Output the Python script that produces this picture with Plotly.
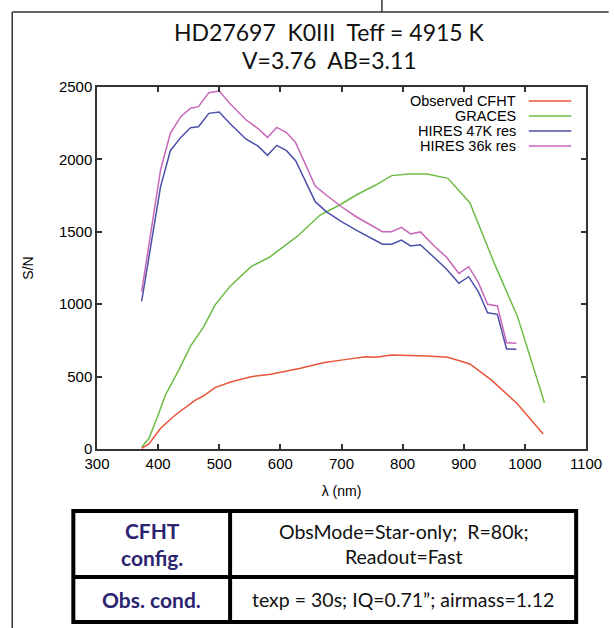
import plotly.graph_objects as go

# wavelength (nm) / S/N
cfht_wl = [373, 385, 404, 428, 461, 474, 493, 520, 552, 584, 633, 670, 708, 724, 740, 756, 782, 840, 874, 910, 945, 988, 1030]
cfht_sn = [5, 35, 143, 235, 338, 366, 424, 465, 499, 516, 557, 596, 619, 626, 637, 633, 649, 642, 633, 587, 477, 311, 104]

graces_wl = [373, 385, 399, 412, 434, 453, 474, 493, 517, 552, 582, 627, 665, 697, 724, 756, 782, 810, 840, 874, 910, 950, 988, 1032]
graces_sn = [12, 74, 223, 373, 546, 711, 840, 994, 1121, 1259, 1324, 1466, 1616, 1685, 1754, 1823, 1888, 1899, 1899, 1869, 1701, 1282, 914, 320]

hires_wl = [373, 404, 420, 437, 453, 466, 483, 500, 517, 544, 563, 579, 594, 610, 625, 657, 675, 700, 724, 746, 767, 782, 798, 813,
            829, 853, 872, 892, 908, 924, 939, 955, 970, 986]
hires47_sn = [1020, 1812, 2060, 2152, 2219, 2226, 2318, 2327, 2249, 2139, 2093, 2028, 2097, 2060, 1991, 1708, 1639, 1570, 1512,
              1462, 1414, 1414, 1443, 1402, 1411, 1317, 1241, 1144, 1190, 1086, 941, 930, 691, 689]
hires36_sn = [1086, 1927, 2180, 2295, 2353, 2364, 2461, 2472, 2387, 2272, 2215, 2152, 2221, 2185, 2116, 1816, 1754, 1673, 1604,
              1554, 1501, 1501, 1531, 1485, 1499, 1397, 1324, 1213, 1259, 1149, 999, 988, 734, 730]

series_names = ["Observed CFHT", "GRACES", "HIRES 47K res", "HIRES 36k res"]
series_colors = ["#e9553a", "#6cbd45", "#4b4fa8", "#c766b8"]

title_lines = ["HD27697  K0III  Teff = 4915 K", "V=3.76  AB=3.11"]
table_left = ["<b>CFHT</b><br><b>config.</b>", "<b>Obs. cond.</b>"]
table_right = ["ObsMode=Star-only;  R=80k;<br>Readout=Fast", "texp = 30s; IQ=0.71”; airmass=1.12"]

W, H = 614, 628
L, R, T, B = 97, 593, 87, 449  # plot area in pixels


def px(x):
    return (x - L) / (R - L)


def py(y):
    return (B - y) / (B - T)


fig = go.Figure()
data = [
    (cfht_wl, cfht_sn),
    (graces_wl, graces_sn),
    (hires_wl, hires47_sn),
    (hires_wl, hires36_sn),
]
for (x, y), name, color in zip(data, series_names, series_colors):
    fig.add_trace(go.Scatter(x=x, y=y, mode="lines", name=name, line=dict(color=color, width=1.5)))

fig.update_layout(
    width=W,
    height=H,
    margin=dict(l=L, r=W - R, t=T, b=H - B),
    plot_bgcolor="white",
    paper_bgcolor="white",
    showlegend=False,
    font=dict(family="Liberation Sans, Arial", size=15, color="black"),
)

axis_style = dict(
    showline=True,
    linecolor="#333333",
    linewidth=1.5,
    mirror="allticks",
    ticks="inside",
    ticklen=5,
    tickwidth=1.5,
    tickcolor="#333333",
    showgrid=False,
    zeroline=False,
)
fig.update_xaxes(axis_style, range=[300, 1100], dtick=100, tick0=300,
                 title=dict(text="λ (nm)", standoff=15, font=dict(size=14)))
fig.update_yaxes(axis_style, range=[0, 2500], dtick=500,
                 title=dict(text="S/N", standoff=22, font=dict(size=14)))

# legend, gnuplot style (text left of sample)
for i, (name, color) in enumerate(zip(series_names, series_colors)):
    yy = 101 + 15 * i
    fig.add_annotation(text=name, xref="paper", yref="paper", x=px(524), y=py(yy),
                       xanchor="right", yanchor="middle", showarrow=False, font=dict(size=14.5))
    fig.add_shape(type="line", xref="paper", yref="paper", x0=px(535), x1=px(578), y0=py(yy), y1=py(yy),
                  line=dict(color=color, width=1.5))

# title
for i, line in enumerate(title_lines):
    fig.add_annotation(text=line, xref="paper", yref="paper", x=px(333), y=py(32 + 28 * i),
                       xanchor="center", yanchor="middle", showarrow=False,
                       font=dict(family="Lato", size=23, color="#111111"))

# outer frame
frame = dict(color="#333333", width=1.5)
fig.add_shape(type="line", xref="paper", yref="paper", x0=px(11), x1=px(616), y0=py(12), y1=py(12), line=frame)
fig.add_shape(type="line", xref="paper", yref="paper", x0=px(11), x1=px(11), y0=py(12), y1=py(630), line=frame)
fig.add_shape(type="line", xref="paper", yref="paper", x0=px(386), x1=px(386), y0=py(-2), y1=py(12), line=frame)

# table
tx0, tx1, tx2 = 73, 232, 583
ty0, ty1, ty2 = 511, 577, 622
tline = dict(color="black", width=4)
fig.add_shape(type="rect", xref="paper", yref="paper", x0=px(tx0), x1=px(tx2), y0=py(ty0), y1=py(ty2), line=tline)
fig.add_shape(type="line", xref="paper", yref="paper", x0=px(tx1), x1=px(tx1), y0=py(ty0), y1=py(ty2), line=tline)
fig.add_shape(type="line", xref="paper", yref="paper", x0=px(tx0), x1=px(tx2), y0=py(ty1), y1=py(ty1), line=tline)
rows = [(ty0 + ty1) / 2, (ty1 + ty2) / 2]
for i in range(2):
    fig.add_annotation(text=table_left[i], xref="paper", yref="paper", x=px((tx0 + tx1) / 2), y=py(rows[i]),
                       xanchor="center", yanchor="middle", showarrow=False,
                       font=dict(family="Lato", size=21, color="#2b2470"))
    fig.add_annotation(text=table_right[i], xref="paper", yref="paper", x=px((tx1 + tx2) / 2), y=py(rows[i]),
                       xanchor="center", yanchor="middle", showarrow=False,
                       font=dict(family="Lato", size=19.5, color="#111111"))

# drop the page's default body margin so the figure sits at the window origin
fig.write_html("out.html", config={"displayModeBar": False},
               post_script="document.body.style.margin='0';document.body.style.overflow='hidden';")
